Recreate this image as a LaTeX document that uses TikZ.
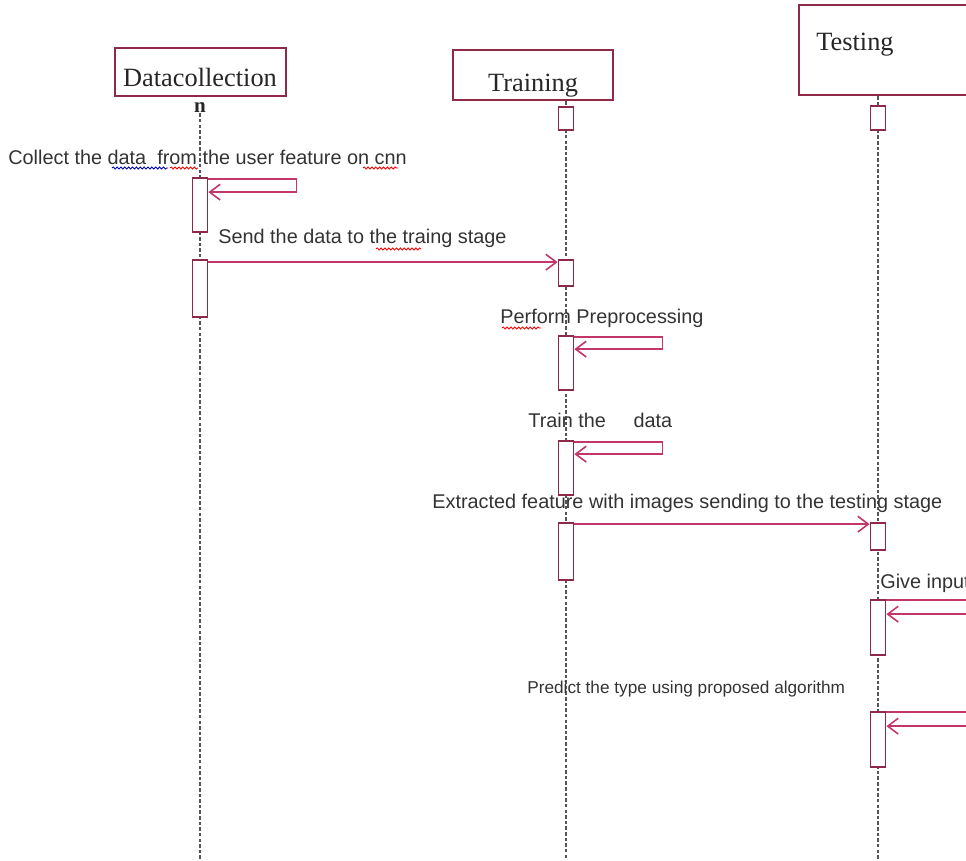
\documentclass[tikz,border=0pt]{standalone}
\usepackage{fontspec}
\setmainfont{Liberation Serif}
\setsansfont{Liberation Sans}
\usepackage{tikz}
\usetikzlibrary{arrows.meta, calc, decorations.pathmorphing}
\definecolor{boxred}{HTML}{8E2A48}
\definecolor{msgred}{HTML}{C2366A}
\definecolor{lifegray}{HTML}{555555}

\begin{document}
\begin{tikzpicture}[x=0.02cm, y=-0.02cm,
    titlebox/.style={draw=boxred, line width=1.3pt, fill=white, inner sep=0pt},
    titletext/.style={font=\fontsize{15}{17}\selectfont, text=black!85},
    act/.style={draw=boxred, line width=1pt, fill=white, minimum width=0.3cm, inner sep=0pt},
    life/.style={draw=lifegray, line width=1pt, dash pattern=on 2pt off 1.2pt},
    msg/.style={draw=msgred, line width=0.9pt, -{Straight Barb[length=6pt, width=9pt]}},
    msgtext/.style={anchor=west, inner sep=0pt, font=\sffamily\fontsize{11.3}{13}\selectfont, text=black!80},
    squiggle/.style={line width=0.5pt, decorate, decoration={snake, amplitude=0.6pt, segment length=2.2pt}}]
    \clip (0,0) rectangle (966,860);
    % heads of the three lifelines
    \node[titlebox, minimum width=3.42cm, minimum height=0.96cm] (dc) at (200.5,72) {};
    \node[titletext] (dclbl) at (200,77) {Datacollection};
    \node[titletext, inner sep=0pt, font=\fontsize{12}{14}\selectfont\bfseries] (dcn) at (200,108) {n};
    \node[titlebox, minimum width=3.2cm, minimum height=1cm] (tr) at (533,75) {};
    \node[titletext] (trlbl) at (533,86) {Training};
    \node[titlebox, minimum width=4.4cm, minimum height=1.8cm, anchor=west] (ts) at (798,50) {};
    \node[titletext] (tslbl) at (855,45) {Testing};
    % lifelines
    \coordinate (dcEnd) at (200,860);
    \coordinate (trEnd) at (566,860);
    \coordinate (tsEnd) at (878,860);
    \draw[life] (dcn.south) -- (dcEnd);
    \draw[life] (tr.south -| trEnd) -- (trEnd);
    \draw[life] (ts.south -| tsEnd) -- (tsEnd);
    % activations
    \node[act, minimum height=1.08cm] (dc1) at (200,205) {};
    \node[act, minimum height=1.14cm] (dc2) at (200,288.5) {};
    \node[act, minimum height=0.46cm] (tr0) at (566,118.5) {};
    \node[act, minimum height=0.52cm] (tr1) at (566,273) {};
    \node[act, minimum height=1.08cm] (tr2) at (566,363) {};
    \node[act, minimum height=1.08cm] (tr3) at (566,468) {};
    \node[act, minimum height=1.14cm] (tr4) at (566,551.5) {};
    \node[act, minimum height=0.48cm] (ts0) at (878,118) {};
    \node[act, minimum height=0.54cm] (ts1) at (878,536.5) {};
    \node[act, minimum height=1.1cm] (ts2) at (878,627.5) {};
    \node[act, minimum height=1.1cm] (ts3) at (878,739.5) {};
    % messages
    \node[msgtext] (m1) at (8,157) {Collect the data\ \ from the user feature on cnn};
    \draw[msg] ($(dc1.north east)+(0,2)$) -- ++(88,0) -- ++(0,13) -- ($(dc1.north east)+(0,15)$);
    \node[msgtext] (m2) at (218,238) {Send the data to the traing stage};
    \draw[msg] ($(dc2.north east)+(0,3)$) coordinate (s2) -- (s2 -| tr1.west);
    \node[msgtext] (m3) at (500,318) {Perform Preprocessing};
    \draw[msg] ($(tr2.north east)+(0,2)$) -- ++(88,0) -- ++(0,12) -- ($(tr2.north east)+(0,14)$);
    \node[msgtext] (m4) at (528,420) {Train the\ \ \ \ \ data};
    \draw[msg] ($(tr3.north east)+(0,2)$) -- ++(88,0) -- ++(0,12) -- ($(tr3.north east)+(0,14)$);
    \node[msgtext] (m5) at (432,503) {Extracted feature with images sending to the testing stage};
    \draw[msg] ($(tr4.north east)+(0,2)$) coordinate (s5) -- (s5 -| ts1.west);
    \node[msgtext] (m6) at (880,583) {Give input};
    \draw[msg] ($(ts2.north east)+(0,1)$) -- ++(100,0) -- ++(0,14) -- ($(ts2.north east)+(0,15)$);
    \node[msgtext, font=\sffamily\fontsize{9.8}{12}\selectfont] (m7) at (527,689) {Predict the type using proposed algorithm};
    \draw[msg] ($(ts3.north east)+(0,1)$) -- ++(100,0) -- ++(0,14) -- ($(ts3.north east)+(0,15)$);
    % spell check marks
    \draw[squiggle, blue!70!black] (112,168) -- (168,168);
    \draw[squiggle, red] (170,168) -- (198,168);
    \draw[squiggle, red] (363,168) -- (398,168);
    \draw[squiggle, red] (376,249) -- (421,249);
    \draw[squiggle, red] (502,328) -- (541,328);
\end{tikzpicture}
\end{document}
